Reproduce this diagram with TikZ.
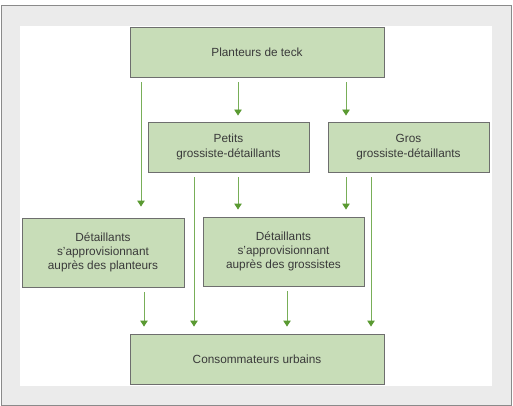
\documentclass[tikz,border=0pt]{standalone}
\usepackage{fontspec}
\setmainfont{Liberation Sans}
\usetikzlibrary{arrows.meta}
\definecolor{boxfill}{HTML}{C8DDB8}
\definecolor{boxdraw}{HTML}{6E6E6E}
\definecolor{arrline}{HTML}{78AE58}
\definecolor{arrhead}{HTML}{5A9A32}
\definecolor{txt}{HTML}{3A3A3A}
\definecolor{framefill}{HTML}{EBEBEB}
\definecolor{framedraw}{HTML}{8A8A8A}
\tikzset{
  box/.style={draw=boxdraw, fill=boxfill, line width=0.9pt, align=center, text=txt,
    font=\fontsize{11.8}{14.3}\selectfont, inner sep=0pt},
  arr/.style={draw=arrline, line width=0.9pt, -{Triangle[length=6pt,width=7.5pt,color=arrhead]}}
}
\begin{document}
\begin{tikzpicture}[x=1pt,y=-1pt]
\useasboundingbox (0,0) rectangle (513,406);
\fill[white] (0,0) rectangle (513,406);
\draw[fill=framefill, draw=framedraw, line width=1pt] (1,6) rectangle (511,405);
\fill[white] (20,26) rectangle (492,386);
\node[box, minimum width=254pt, minimum height=50pt] (plant) at (257,52) {Planteurs de teck};
\node[box, minimum width=161pt, minimum height=50pt] (petits) at (228.5,147) {Petits\\grossiste-détaillants};
\node[box, minimum width=161pt, minimum height=50pt] (gros) at (408.5,147) {Gros\\grossiste-détaillants};
\node[box, minimum width=162pt, minimum height=69pt] (detp) at (103,252.5) {Détaillants\\s’approvisionnant\\auprès des planteurs};
\node[box, minimum width=161pt, minimum height=69pt] (detg) at (283.5,251.5) {Détaillants\\s’approvisionnant\\auprès des grossistes};
\node[box, minimum width=254pt, minimum height=50pt] (cons) at (257,359) {Consommateurs urbains};
% from planteurs
\draw[arr, shorten <=5pt, shorten >=11pt] (plant.south -| 141,0) -- (detp.north -| 141,0);
\draw[arr, shorten <=5pt, shorten >=6pt] (plant.south -| 238,0) -- (petits.north -| 238,0);
\draw[arr, shorten <=5pt, shorten >=6pt] (plant.south -| 346,0) -- (gros.north -| 346,0);
% from grossistes
\draw[arr, shorten <=5pt, shorten >=7pt] (petits.south -| 194,0) -- (cons.north -| 194,0);
\draw[arr, shorten <=5pt, shorten >=7pt] (petits.south -| 238,0) -- (detg.north -| 238,0);
\draw[arr, shorten <=5pt, shorten >=7pt] (gros.south -| 346,0) -- (detg.north -| 346,0);
\draw[arr, shorten <=5pt, shorten >=7pt] (gros.south -| 371,0) -- (cons.north -| 371,0);
% from detaillants
\draw[arr, shorten <=5pt, shorten >=7pt] (detp.south -| 144,0) -- (cons.north -| 144,0);
\draw[arr, shorten <=5pt, shorten >=7pt] (detg.south -| 287,0) -- (cons.north -| 287,0);
\end{tikzpicture}
\end{document}
